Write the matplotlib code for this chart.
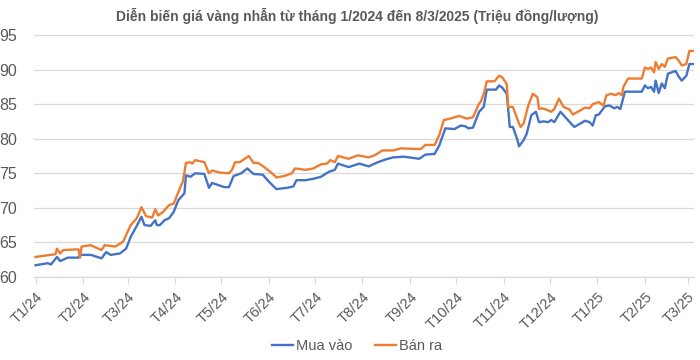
import matplotlib
matplotlib.use("Agg")
import matplotlib.pyplot as plt
import numpy as np
import datetime as dt
import matplotlib.dates as mdates

plt.rcParams['font.family'] = ['Liberation Sans', 'DejaVu Sans']

title = "Diễn biến giá vàng nhẫn từ tháng 1/2024 đến 8/3/2025 (Triệu đồng/lượng)"
start_date = dt.date(2024, 1, 1)

# day offsets from 1/1/2024 and prices (million VND / tael)
sell_days = [0, 13, 14, 16, 18, 28, 29, 30, 36, 43, 45, 52, 57, 62, 66, 69, 72, 76, 78, 80,
             83, 87, 90, 94, 96, 98, 101, 102, 104, 110, 113, 115, 120, 126, 128, 130, 133, 139, 142, 145,
             149, 153, 157, 162, 167, 169, 176, 181, 186, 190, 192, 195, 197, 204, 210, 217, 221, 226, 233, 238,
             251, 254, 260, 263, 266, 270, 276, 281, 283, 285, 289, 290, 292, 294, 299, 302, 304, 307, 308, 311,
             315, 316, 318, 321, 324, 327, 328, 330, 333, 336, 338, 341, 344, 348, 350, 355, 358, 361, 363, 367,
             370, 372, 375, 378, 380, 382, 383, 386, 395, 397, 399, 401, 403, 404, 406, 408, 410, 412, 417, 419,
             421, 424, 426, 429]
sell_vals = [62.9, 63.3, 64.1, 63.4, 63.9, 64.0, 62.8, 64.4, 64.6, 63.9, 64.6, 64.4, 65.1, 67.5, 68.5, 70.1, 68.8, 68.6, 69.8, 68.9,
             69.4, 70.4, 70.6, 72.8, 73.8, 76.5, 76.6, 76.4, 76.9, 76.6, 75.0, 75.4, 75.1, 75.0, 75.5, 76.6, 76.6, 77.5, 76.5, 76.5,
             75.9, 75.2, 74.4, 74.6, 75.0, 75.7, 75.5, 75.7, 76.3, 76.4, 76.9, 76.6, 77.5, 77.1, 77.6, 77.3, 77.6, 78.3, 78.3, 78.6,
             78.5, 79.1, 79.1, 80.5, 82.7, 82.9, 83.3, 82.9, 83.0, 83.1, 85.1, 85.3, 86.5, 88.3, 88.3, 89.1, 88.9, 87.9, 84.6, 84.6,
             82.2, 81.7, 82.2, 84.8, 86.5, 86.0, 84.3, 84.4, 84.2, 83.9, 84.3, 85.8, 84.6, 84.2, 83.5, 84.1, 84.5, 84.4, 85.0, 85.3,
             84.8, 86.3, 86.5, 86.3, 86.6, 86.3, 87.5, 88.7, 88.7, 90.3, 90.1, 90.3, 89.6, 91.1, 90.1, 90.8, 90.4, 91.6, 91.8, 91.3,
             90.6, 90.8, 92.7, 92.7]

buy_days = [0, 8, 10, 14, 16, 21, 28, 29, 36, 43, 46, 49, 55, 59, 62, 65, 69, 71, 75, 78,
            79, 81, 84, 87, 90, 93, 97, 98, 101, 104, 110, 113, 115, 123, 126, 129, 134, 138, 142, 148,
            152, 157, 160, 164, 168, 170, 176, 181, 186, 191, 195, 197, 204, 211, 217, 223, 228, 233, 240, 250,
            254, 260, 263, 267, 273, 277, 280, 282, 285, 289, 292, 294, 300, 302, 304, 307, 309, 311, 314, 315,
            318, 320, 323, 326, 328, 331, 334, 336, 338, 342, 346, 348, 351, 355, 358, 361, 363, 365, 367, 369,
            371, 374, 377, 379, 381, 384, 395, 397, 399, 401, 403, 404, 406, 408, 410, 412, 417, 419, 421, 424,
            426, 429]
buy_vals = [61.7, 62.0, 61.8, 62.9, 62.3, 62.8, 62.8, 63.2, 63.2, 62.7, 63.6, 63.2, 63.4, 64.1, 65.8, 67.0, 68.7, 67.5, 67.4, 68.2,
            67.5, 67.5, 68.2, 68.5, 69.4, 71.1, 72.1, 74.7, 74.5, 75.0, 74.9, 72.9, 73.6, 73.0, 73.0, 74.6, 75.0, 75.7, 74.9, 74.8,
            73.8, 72.7, 72.8, 72.9, 73.1, 74.0, 74.0, 74.2, 74.5, 75.2, 75.5, 76.4, 75.9, 76.4, 76.0, 76.6, 77.0, 77.3, 77.4, 77.1,
            77.7, 77.8, 79.0, 81.5, 81.4, 81.9, 81.8, 81.5, 81.6, 83.9, 84.6, 87.1, 87.1, 87.7, 87.4, 86.5, 81.7, 81.7, 79.8, 78.9,
            79.8, 80.7, 83.4, 83.9, 82.4, 82.5, 82.4, 82.7, 82.4, 83.9, 82.9, 82.4, 81.7, 82.2, 82.6, 82.4, 81.9, 83.4, 83.5, 84.1,
            84.7, 84.8, 84.4, 84.6, 84.3, 86.8, 86.8, 87.7, 87.3, 87.5, 86.8, 88.4, 86.6, 88.0, 87.3, 89.4, 89.8, 89.0, 88.4, 89.1,
            90.8, 90.8]

month_labels = ["T1/24", "T2/24", "T3/24", "T4/24", "T5/24", "T6/24", "T7/24", "T8/24",
                "T9/24", "T10/24", "T11/24", "T12/24", "T1/25", "T2/25", "T3/25"]
series_names = ["Mua vào", "Bán ra"]
y_ticks = [60, 65, 70, 75, 80, 85, 90, 95]

BLUE = "#4472C4"
ORANGE = "#ED7D31"
GRID = "#D9D9D9"
TXT = "#595959"

to_dates = lambda ds: [start_date + dt.timedelta(days=int(d)) for d in ds]
buy_dates = to_dates(buy_days)
sell_dates = to_dates(sell_days)
tick_dates = [dt.date(2024 + (i // 12), (i % 12) + 1, 1) for i in range(len(month_labels))]

fig = plt.figure(figsize=(7.0, 3.6), dpi=100)
ax = fig.add_axes([34/700, 1-277/360, (694-34)/700, (277-35)/360])

ax.plot(buy_dates, buy_vals, color=BLUE, lw=1.7, label=series_names[0], solid_joinstyle='round')
ax.plot(sell_dates, sell_vals, color=ORANGE, lw=1.7, label=series_names[1], solid_joinstyle='round')

ax.set_ylim(60, 95)
ax.set_yticks(y_ticks)
ax.set_xlim(start_date - dt.timedelta(days=1), start_date + dt.timedelta(days=429))
ax.set_xticks(tick_dates)
ax.set_xticklabels(month_labels, rotation=45, ha='right', rotation_mode='anchor',
                   fontsize=10.5, color=TXT)
ax.tick_params(axis='x', length=5, width=0.8, color=GRID, pad=4)
ax.tick_params(axis='y', length=0, labelsize=11.5, labelcolor=TXT, pad=12)
ax.grid(axis='y', color=GRID, lw=0.9)
ax.set_axisbelow(True)
for s in ['top', 'right', 'left']:
    ax.spines[s].set_visible(False)
ax.spines['bottom'].set_color(GRID)
ax.spines['bottom'].set_linewidth(0.9)

fig.text(0.51, 1-16/360, title, ha='center', va='center', fontsize=10,
         fontweight='bold', color=TXT)

leg = fig.legend(loc='center', bbox_to_anchor=(0.51, 1-346/360), ncol=2, frameon=False,
                 fontsize=10.5, handlelength=1.5, handletextpad=0.2, columnspacing=1.5)
for t in leg.get_texts():
    t.set_color(TXT)

fig.savefig("out.png", dpi=100)
